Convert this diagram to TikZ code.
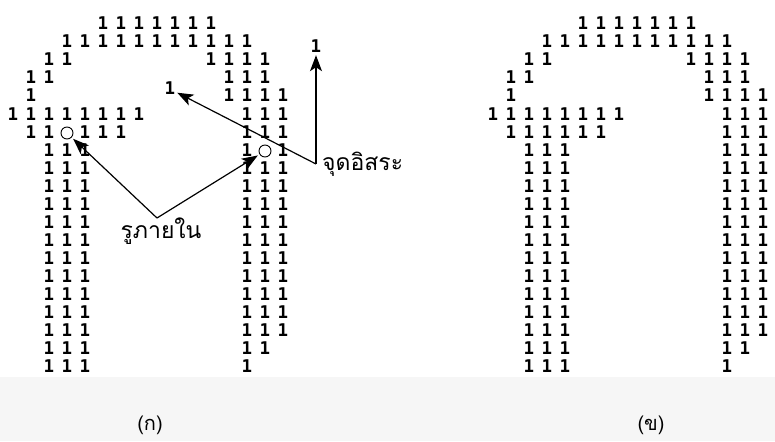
\documentclass[tikz,border=0pt]{standalone}
\usepackage{fontspec}
\usetikzlibrary{positioning,arrows.meta}
\newfontfamily\thaifont[Script=Thai]{Loma}
\newfontfamily\bitfont{DejaVu Sans Mono}
\definecolor{band}{RGB}{246,246,246}

% one row of ones: panel, x offset, row, columns
\newcommand\bitrow[4]{%
  \foreach \c in {#4}
    \node [bit] (#1-#3-\c) at (#2+18*\c, 6+18*#3) {1};}

\begin{document}
\begin{tikzpicture}
        [ x = 1pt, y = -1pt
        , bit/.style =
          { font = \bitfont\bfseries\fontsize{17.5}{17.5}\selectfont
          , inner sep = 0pt, text height = 12pt, text depth = 0pt }
        , hole/.style =
          { circle, draw, line width = .9pt, inner sep = 0pt, minimum size = 12pt }
        , arrow/.style =
          { -{Stealth[length = 16pt, width = 12pt, inset = 4pt]}
          , line width = 1.2pt, shorten >= 2pt }
        , note/.style =
          { font = \thaifont\fontsize{23}{23}\selectfont, inner sep = 1pt }
        , caption/.style =
          { font = \thaifont\fontsize{20}{20}\selectfont, inner sep = 0pt }
        ]
        \useasboundingbox (0,0) rectangle (775,441);
        \fill [band] (0,377) rectangle (775,441);

        % rows shared by both panels
        \foreach \p/\xo in {L/13, R/493} {
          \bitrow{\p}{\xo}{1}{5,...,11}
          \bitrow{\p}{\xo}{2}{3,...,13}
          \bitrow{\p}{\xo}{3}{2,3,11,12,13,14}
          \bitrow{\p}{\xo}{4}{1,2,12,13,14}
          \bitrow{\p}{\xo}{5}{1,12,13,14,15}
          \bitrow{\p}{\xo}{6}{0,...,7,13,14,15}
          \foreach \r in {9,...,18}
            {\bitrow{\p}{\xo}{\r}{2,3,4,13,14,15}}
          \bitrow{\p}{\xo}{19}{2,3,4,13,14}
          \bitrow{\p}{\xo}{20}{2,3,4,13}
        }
        % rows 7 and 8: open holes on the left, filled on the right
        \bitrow{L}{13}{7}{1,2,4,5,6,13,14,15}
        \bitrow{L}{13}{8}{2,3,4,13,15}
        \bitrow{R}{493}{7}{1,...,6,13,14,15}
        \bitrow{R}{493}{8}{2,3,4,13,14,15}

        % holes and stray points of the left panel
        \node [hole] (hole1) at (67,133) {};
        \node [hole] (hole2) at (265,151) {};
        \node [bit] (stray1) at (170,89) {1};
        \node [bit] (stray2) at (316,47) {1};

        \node [note] (inner) at (161,231) {รูภายใน};
        \coordinate (innerfork) at (157,218);
        \draw [arrow] (innerfork) -- (hole1);
        \draw [arrow] (innerfork) -- (hole2);

        \coordinate (freefork) at (316,164);
        \node [note] (free) [right=5pt of freefork] {จุดอิสระ};
        \draw [arrow] (freefork) -- (stray1);
        \draw [arrow] (freefork) -- (stray2);

        \node [caption] (capL) at (150,425) {(ก)};
        \node [caption] (capR) at (651,425) {(ข)};
      \end{tikzpicture}
\end{document}
